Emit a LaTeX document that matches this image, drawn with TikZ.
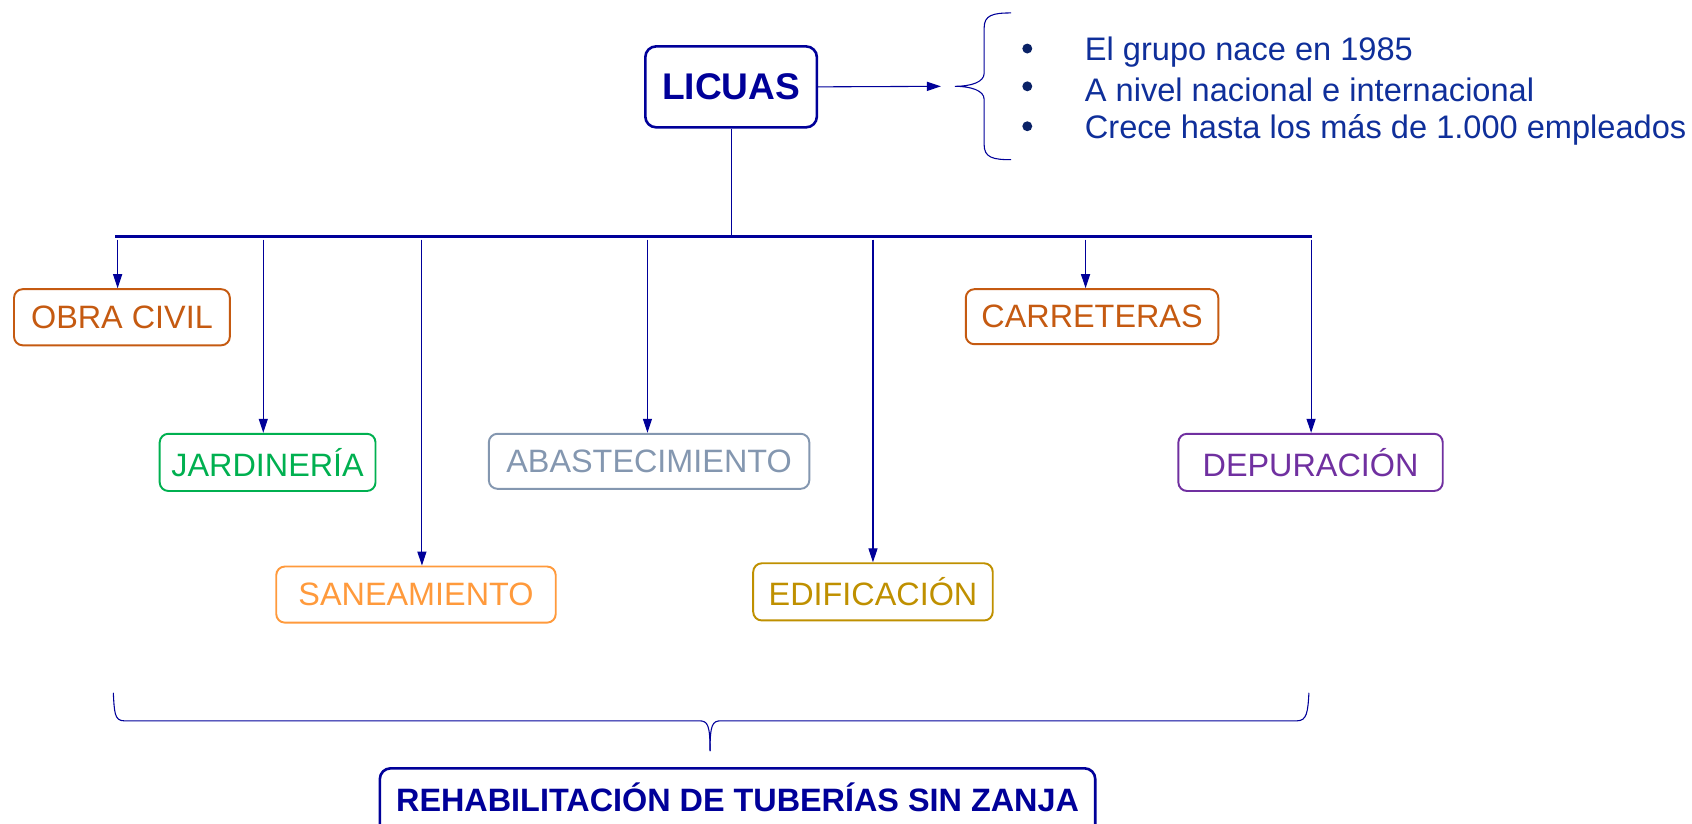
\documentclass[tikz,border=0pt]{standalone}
\usepackage{fontspec}
\setmainfont{Liberation Sans}
\usetikzlibrary{arrows.meta}
\definecolor{navy}{HTML}{000099}
\definecolor{txtblue}{HTML}{0F2F9A}
\definecolor{bulletc}{HTML}{0A2266}
\definecolor{cobra}{HTML}{C55A11}
\definecolor{cjard}{HTML}{00B050}
\definecolor{csane}{HTML}{FF9A3C}
\definecolor{cabast}{HTML}{8497B0}
\definecolor{cedif}{HTML}{BF9000}
\definecolor{cdepur}{HTML}{7030A0}
\begin{document}
\begin{tikzpicture}[x=0.5pt,y=-0.5pt,
  catbox/.style={draw=#1,text=#1,line width=0.9pt,rounded corners=4pt,inner sep=0pt,
    font=\fontsize{15}{18}\selectfont,anchor=center},
  conn/.style={navy,line width=0.5pt,-{Triangle[length=6.5pt,width=4.2pt]}},
  thin/.style={navy,line width=0.5pt},
  bul/.style={anchor=west,inner sep=0pt,text=txtblue,font=\fontsize{15.1}{18}\selectfont}
]
\useasboundingbox (0,0) rectangle (1568,763);
% top box
\node[draw=navy,text=navy,line width=1.2pt,rounded corners=5pt,inner sep=0pt,
  minimum width=79.5pt,minimum height=37.5pt,font=\fontsize{17.2}{20}\selectfont\bfseries]
  (lic) at (677.5,80.5) {LICUAS};
% bullet list
\coordinate (bt) at (872,80);
\draw[conn] (lic.east) -- (bt);
\draw[thin] (937,12) .. controls (920,12) and (912,14) .. (912,26) -- (912,68)
  .. controls (912,76) and (900,80) .. (885,80)
  .. controls (900,80) and (912,84) .. (912,92) -- (912,134)
  .. controls (912,146) and (920,148) .. (937,148);
\foreach \y/\t [count=\i] in {48/El grupo nace en 1985,83/A nivel nacional e internacional,120/Crece hasta los más de 1.000 empleados}{
  \node[circle,fill=bulletc,inner sep=0pt,minimum size=4.6pt] (b\i) at (952,\y-3) {};
  \node[bul] (t\i) at (1005,\y) {\t};
}
% categories
\node[catbox=cobra,minimum width=100pt,minimum height=26pt] (obra) at (113,294) {OBRA CIVIL};
\node[catbox=cjard,minimum width=100pt,minimum height=26.5pt] (jard) at (248,428.5) {JARDINERÍA};
\node[catbox=csane,minimum width=129.5pt,minimum height=26pt] (sane) at (385.5,551) {SANEAMIENTO};
\node[catbox=cabast,minimum width=148.5pt,minimum height=25.5pt] (abast) at (601.5,427.5) {ABASTECIMIENTO};
\node[catbox=cedif,minimum width=111pt,minimum height=26.5pt] (edif) at (809,548.5) {EDIFICACIÓN};
\node[catbox=cobra,minimum width=117pt,minimum height=25.5pt] (carr) at (1012,293.5) {CARRETERAS};
\node[catbox=cdepur,minimum width=122.5pt,minimum height=26.5pt] (depur) at (1214.5,428.5) {DEPURACIÓN};
% bus
\coordinate (busL) at (107,219);
\coordinate (busR) at (1216,219);
\draw[navy,line width=1.2pt] (busL) -- (busR);
\draw[thin] (lic.south) -- (lic.south |- busL);
\foreach \x/\n in {109/obra,244/jard,391/sane,600/abast,809/edif,1006/carr,1215/depur}{
  \coordinate (s\n) at (\x,222);
  \draw[conn] (s\n) -- (\x,0 |- \n.north);
}
% bottom brace
\draw[thin] (105,642) .. controls (106,660) and (106,668) .. (115,668) -- (648,668)
  .. controls (656,668) and (658,672) .. (658,696);
\draw[thin] (658,696) .. controls (658,672) and (660,668) .. (668,668) -- (1202,668)
  .. controls (1211,668) and (1212,660) .. (1213,642);
% result box
\node[draw=navy,text=navy,line width=1.2pt,rounded corners=5pt,inner sep=0pt,
  minimum width=331.5pt,minimum height=31pt,font=\fontsize{15}{18}\selectfont\bfseries]
  (rehab) at (683.5,743) {\raisebox{-4.5pt}[0pt][0pt]{\makebox[0pt]{REHABILITACIÓN DE TUBERÍAS SIN ZANJA}}};
\end{tikzpicture}
\end{document}
